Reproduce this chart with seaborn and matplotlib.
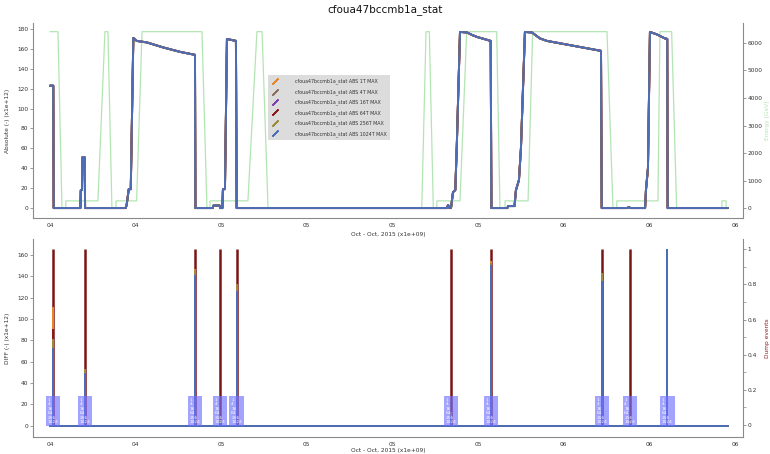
import numpy as np
import pandas as pd
import matplotlib
matplotlib.use("Agg")
import matplotlib.pyplot as plt
import seaborn as sns
from matplotlib.lines import Line2D
from matplotlib.ticker import MultipleLocator

# ---------------- data ----------------
TITLE = "cfoua47bccmb1a_stat"
SERIES = ["1T", "4T", "16T", "64T", "256T", "1024T"]
SERIES_COLORS = ["#E8852A", "#8B6F5A", "#7D3FB0", "#8B1A1A", "#9A8A3A", "#4C6CB8"]
XTICK_HOURS = [0, 6, 12, 18, 24, 30, 36, 42, 48]
XTICK_LABELS = ["04", "04", "05", "05", "05", "05", "06", "06", "06"]
XLABEL = "Oct - Oct, 2015 (x1e+09)"

# absolute intensity (x1e+12), hours after 04 12:00
abs_hours = [0.0, 0.23, 0.26, 2.13, 2.16, 2.24, 2.27, 2.43, 2.46, 5.30, 5.37, 5.52,
             5.66, 5.84, 6.08, 6.78, 7.92, 9.11, 10.16, 10.19, 11.40, 11.45, 11.88,
             11.93, 12.08, 12.12, 12.26, 12.40, 12.54, 13.03, 13.08, 27.80, 27.90,
             27.98, 28.10, 28.24, 28.40, 28.50, 28.73, 29.22, 29.57, 29.92, 30.88,
             30.93, 32.05, 32.10, 32.55, 32.65, 32.86, 33.00, 33.28, 33.77, 34.33,
             34.82, 38.61, 38.66, 40.45, 40.55, 40.68, 41.70, 41.76, 41.90, 42.04,
             42.53, 43.09, 43.25, 43.28, 47.50]
abs_values = [123, 123, 0, 0, 18, 18, 51, 51, 0, 0, 3, 19,
              19, 171, 168, 166.5, 161.5, 157, 154, 0, 0, 2.5, 2.5,
              0, 0, 19, 19, 170, 169.5, 168, 0, 0, 3,
              0, 0, 16, 18, 60, 177, 176.5, 174, 172, 168,
              0, 0, 2, 2, 18, 28, 60, 177, 176.5, 170.5,
              168, 158, 0, 0, 1, 0, 0, 18, 40, 177,
              174.5, 170.5, 170, 0, 0]

# beam energy [GeV]
energy_hours = [0.0, 0.56, 0.84, 1.10, 1.11, 3.36, 3.85, 4.06, 4.34, 4.62, 4.63,
                6.07, 6.45, 10.65, 11.00, 11.21, 11.22, 13.87, 14.50, 14.86, 15.28,
                26.05, 26.35, 26.58, 26.86, 27.10, 27.11, 28.73, 29.20, 31.30, 31.53,
                31.88, 31.89, 33.50, 33.82, 39.03, 39.45, 39.71, 39.72, 42.60, 42.74,
                43.56, 43.91, 47.07, 47.08, 47.37, 47.38]
energy_gev = [6400, 6400, 0, 0, 270, 270, 6400, 6400, 0, 0, 270,
              270, 6400, 6400, 0, 0, 270, 270, 6400, 6400, 0,
              0, 6400, 6400, 0, 0, 270, 270, 6400, 6400, 0,
              0, 270, 270, 6400, 6400, 0, 0, 270, 270, 6400,
              6400, 0, 0, 270, 270, 60]

# diff spikes at events (x1e+12)
event_hours = [0.23, 2.45, 10.18, 11.90, 13.08, 28.10, 30.90, 38.66, 40.62, 43.26]
diff_1T = [110, 52, 146, 4, 132, 12, 153, 142, 3, 165]
diff_4T = [85, 50, 145, 3, 131, 11, 152, 141, 2, 165]
diff_16T = [88, 50, 144, 3, 130, 10, 152, 140, 2, 165]
diff_64T = [90, 50, 144, 3, 130, 10, 151, 140, 2, 165]
diff_256T = [80, 52, 145, 3, 132, 11, 152, 142, 2, 165]
diff_1024T = [72, 48, 140, 2, 125, 8, 150, 135, 1, 165]
BOX_LABEL = ["1", "4", "16", "64", "256", "1024"]

dump_hours = [0.23, 2.45, 10.18, 11.90, 13.08, 28.10, 30.90, 38.66, 40.62]
dump_values = [1, 1, 1, 1, 1, 1, 1, 1, 1]

# ---------------- style ----------------
sns.set_style("white")
plt.rcParams["font.family"] = ["DejaVu Sans"]

W, H = 770, 454
fig = plt.figure(figsize=(W / 100, H / 100), dpi=100)

L, R = 33 / W, 743 / W
ax_top = fig.add_axes([L, 1 - 218 / H, R - L, (218 - 23) / H])
ax_bot = fig.add_axes([L, 1 - 437 / H, R - L, (437 - 239) / H])
ax_top2 = ax_top.twinx()
ax_bot2 = ax_bot.twinx()
for a, a2 in [(ax_top, ax_top2), (ax_bot, ax_bot2)]:
    a.set_zorder(a2.get_zorder() + 1)
    a.patch.set_visible(False)

SPINE = "#8a8a8a"
TXT = "#333333"
GREEN = "#b3e5b3"
FS = 4.2


def style(a, right=False):
    for s in a.spines.values():
        s.set_color(SPINE)
        s.set_linewidth(0.8)
    a.spines["top"].set_visible(False)
    if right:
        a.spines["left"].set_visible(False)
        a.spines["bottom"].set_visible(False)
    else:
        a.spines["right"].set_visible(False)
    a.tick_params(labelsize=FS, length=2.5, width=0.6, colors=SPINE,
                  labelcolor=TXT, direction="out", pad=1)
    a.tick_params(which="minor", length=1.8, width=0.5, colors=SPINE)


XMIN, XMAX = -1.19, 48.56
AXW = 710.0

# ---------- top panel ----------
abs_df = pd.DataFrame({"h": abs_hours, "v": abs_values})
handles = []
for name, col in zip(SERIES, SERIES_COLORS):
    sns.lineplot(data=abs_df, x="h", y="v", estimator=None, sort=False,
                 color=col, lw=1.4, ax=ax_top)
    handles.append(Line2D([], [], color=col, marker=(2, 2, -45), markersize=6,
                          markeredgewidth=1.1, linestyle="none",
                          label=f"{TITLE} ABS {name} MAX"))
en_df = pd.DataFrame({"h": energy_hours, "e": energy_gev})
sns.lineplot(data=en_df, x="h", y="e", estimator=None, sort=False,
             color=GREEN, lw=0.9, ax=ax_top2)

ax_top.set_xlim(XMIN, XMAX)
ax_top.set_ylim(-10, 186)
ax_top.set_yticks(range(0, 181, 20))
ax_top2.set_ylim(-351, 6714)
ax_top2.set_yticks(range(0, 6001, 1000))
ax_top.set_xticks(XTICK_HOURS)
ax_top.set_xticklabels(XTICK_LABELS)
ax_top.set_xlabel(XLABEL, fontsize=FS, color=TXT)
ax_top.xaxis.set_label_coords(0.5, -14.5 / 195)
ax_top.set_ylabel("Absolute (-) (x1e+12)", fontsize=FS, color=TXT)
ax_top.yaxis.set_label_coords((10 - 33) / AXW, 0.5)
ax_top2.set_ylabel("Energy [GeV]", fontsize=FS, color=GREEN)
ax_top2.yaxis.set_label_coords((765 - 33) / AXW, 0.5)
ax_top2.set_xlabel("")
style(ax_top)
style(ax_top2, right=True)

leg = ax_top.legend(handles=handles, loc="upper left",
                    bbox_to_anchor=((268 - 33) / AXW, (218 - 75) / 195),
                    fontsize=3.4, frameon=True, facecolor="#dcdcdc",
                    edgecolor="none", framealpha=1, handlelength=1.2,
                    handletextpad=3.7, labelspacing=1.0, borderpad=0.8,
                    borderaxespad=0)
for t in leg.get_texts():
    t.set_color(TXT)

# ---------- bottom panel ----------
diffs = [diff_1T, diff_4T, diff_16T, diff_64T, diff_256T, diff_1024T]
for vals, col in zip(diffs, SERIES_COLORS):
    xs, ys = [0.0], [0.0]
    for t, v in zip(event_hours, vals):
        xs += [t, t, t]
        ys += [0, v, 0]
    xs.append(47.5)
    ys.append(0)
    sns.lineplot(x=xs, y=ys, estimator=None, sort=False, color=col, lw=1.4,
                 ax=ax_bot)

ax_bot2.vlines(dump_hours, 0, dump_values, color="#7a1515", lw=1.8)

for t in event_hours:
    ax_bot.text(t, 1.5, "\n".join(BOX_LABEL), fontsize=3.1, color="white",
                ha="center", va="bottom", multialignment="left",
                linespacing=1.15, zorder=5,
                bbox=dict(boxstyle="square,pad=0.4", fc="#7070ff",
                          ec="none", alpha=0.65))

ax_bot.set_xlim(XMIN, XMAX)
ax_bot.set_ylim(-10.6, 175)
ax_bot.set_yticks(range(0, 161, 20))
ax_bot2.set_ylim(-0.068, 1.0586)
ax_bot2.set_yticks([0, 0.2, 0.4, 0.6, 0.8, 1])
ax_bot2.set_yticklabels(["0", "0.2", "0.4", "0.6", "0.8", "1"])
ax_bot2.yaxis.set_minor_locator(MultipleLocator(0.1))
ax_bot.set_xticks(XTICK_HOURS)
ax_bot.set_xticklabels(XTICK_LABELS)
ax_bot.set_xlabel(XLABEL, fontsize=FS, color=TXT)
ax_bot.xaxis.set_label_coords(0.5, -11 / 198)
ax_bot.set_ylabel("DIFF (-) (x1e+12)", fontsize=FS, color=TXT)
ax_bot.yaxis.set_label_coords((10 - 33) / AXW, 0.5)
ax_bot2.set_ylabel("Dump events", fontsize=FS, color="#8B2020")
ax_bot2.yaxis.set_label_coords((765 - 33) / AXW, 0.5)
style(ax_bot)
style(ax_bot2, right=True)

fig.suptitle(TITLE, fontsize=7.5, color="#111111", y=1 - 10 / H, va="center")

fig.savefig("out.png", dpi=100)
